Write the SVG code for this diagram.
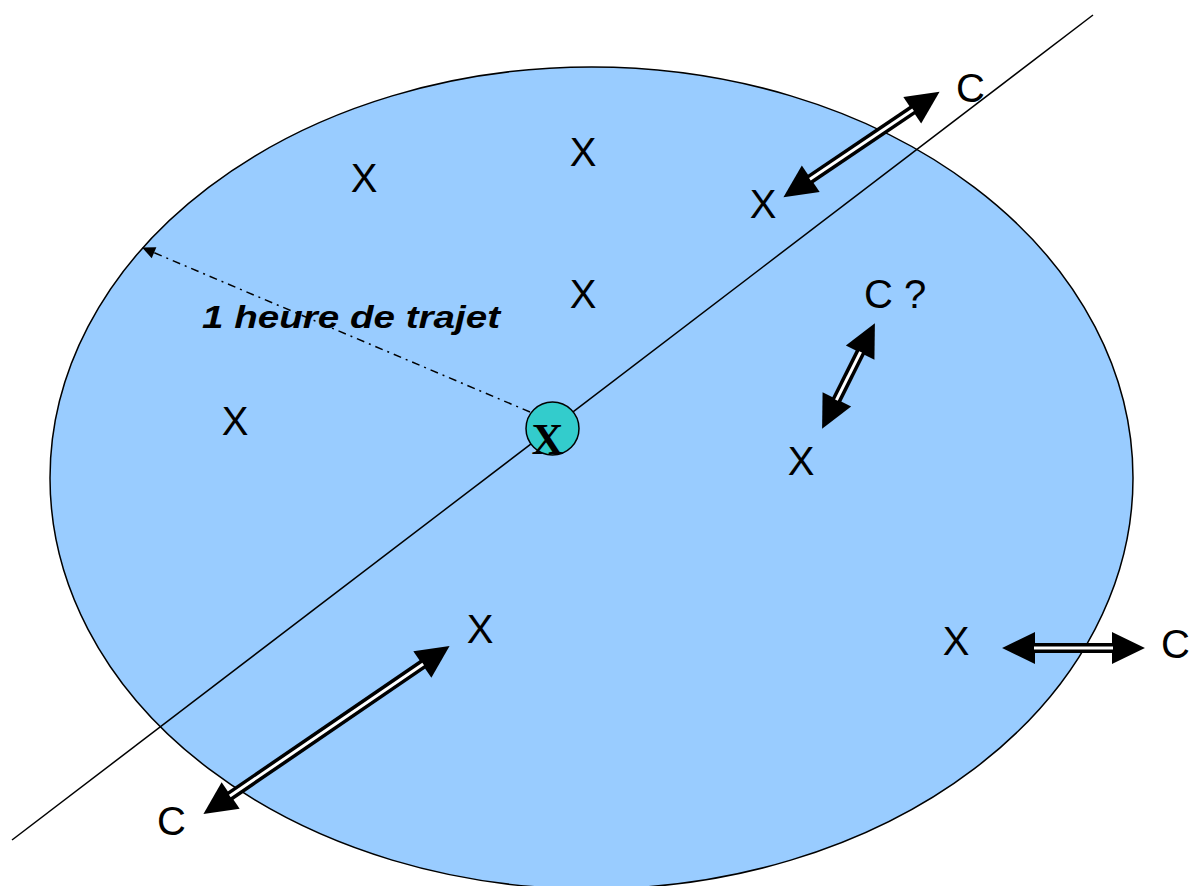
<svg xmlns="http://www.w3.org/2000/svg" width="1190" height="886" viewBox="0 0 1190 886">
<style>
.lbl{font-family:"Liberation Sans",Arial,sans-serif;font-size:40px;fill:#000;text-anchor:middle}
.lblc{font-family:"Liberation Sans",Arial,sans-serif;font-size:40px;fill:#000}
.shaft{stroke:#000;stroke-width:10;fill:none;marker-start:url(#ah);marker-end:url(#ah)}
.gap{stroke:#fff;stroke-width:3;fill:none}
</style>
<defs>
<marker id="ah" markerUnits="userSpaceOnUse" markerWidth="34" markerHeight="34" viewBox="-1 -16 33 32" refX="0" refY="0" orient="auto-start-reverse" overflow="visible">
<path d="M-1,-15.5 L31,0 L-1,15.5 z" fill="#000"/>
</marker>
<marker id="sh" markerUnits="userSpaceOnUse" markerWidth="14" markerHeight="14" viewBox="0 -7 14 14" refX="12" refY="0" orient="auto" overflow="visible">
<path d="M0,-6 L13,0 L0,6 z" fill="#000"/>
</marker>
</defs>
<g id="zone">
<ellipse cx="591.5" cy="478" rx="541.5" ry="411" fill="#99CCFF" stroke="#000" stroke-width="1.5"/>
</g>
<g id="axis">
<line x1="1093" y1="15" x2="12" y2="840" stroke="#000" stroke-width="1.5"/>
</g>
<g id="radius">
<line x1="530" y1="412" x2="143" y2="248" stroke="#000" stroke-width="1.5" stroke-dasharray="8 5 2 5" marker-end="url(#sh)"/>
<text x="202" y="328" font-family="'Liberation Sans',Arial,sans-serif" font-size="32" font-weight="bold" font-style="italic" textLength="298" lengthAdjust="spacingAndGlyphs">1 heure de trajet</text>
</g>
<g id="center">
<circle cx="552.5" cy="428.5" r="26.5" fill="#33CCCC" stroke="#000" stroke-width="1.5"/>
<text x="547.5" y="454" font-family="'Liberation Serif','Times New Roman',serif" font-size="44" font-weight="bold" text-anchor="middle">X</text>
</g>
<g id="points">
<text class="lbl" x="364" y="192">X</text>
<text class="lbl" x="583" y="166">X</text>
<text class="lbl" x="583" y="308">X</text>
<text class="lbl" x="235" y="435">X</text>
<text class="lbl" x="763" y="218">X</text>
<text class="lbl" x="801" y="475">X</text>
<text class="lbl" x="956" y="655">X</text>
<text class="lbl" x="480" y="643">X</text>
</g>
<g id="labels-c">
<text class="lblc" x="956" y="102">C</text>
<text class="lblc" x="864" y="308">C ?</text>
<text class="lblc" x="1161" y="658">C</text>
<text class="lblc" x="157" y="835">C</text>
</g>
<g id="connectors">
<line class="shaft" x1="809.9" y1="179.3" x2="913.1" y2="109.7"/>
<line class="gap" x1="809.9" y1="179.3" x2="913.1" y2="109.7"/>
<line class="shaft" x1="836.4" y1="400.2" x2="860.6" y2="351.8"/>
<line class="gap" x1="836.4" y1="400.2" x2="860.6" y2="351.8"/>
<line class="shaft" x1="1034" y1="648" x2="1113" y2="648"/>
<line class="gap" x1="1034" y1="648" x2="1113" y2="648"/>
<line class="shaft" x1="229.8" y1="796.1" x2="423.2" y2="663.9"/>
<line class="gap" x1="229.8" y1="796.1" x2="423.2" y2="663.9"/>
</g>
</svg>
